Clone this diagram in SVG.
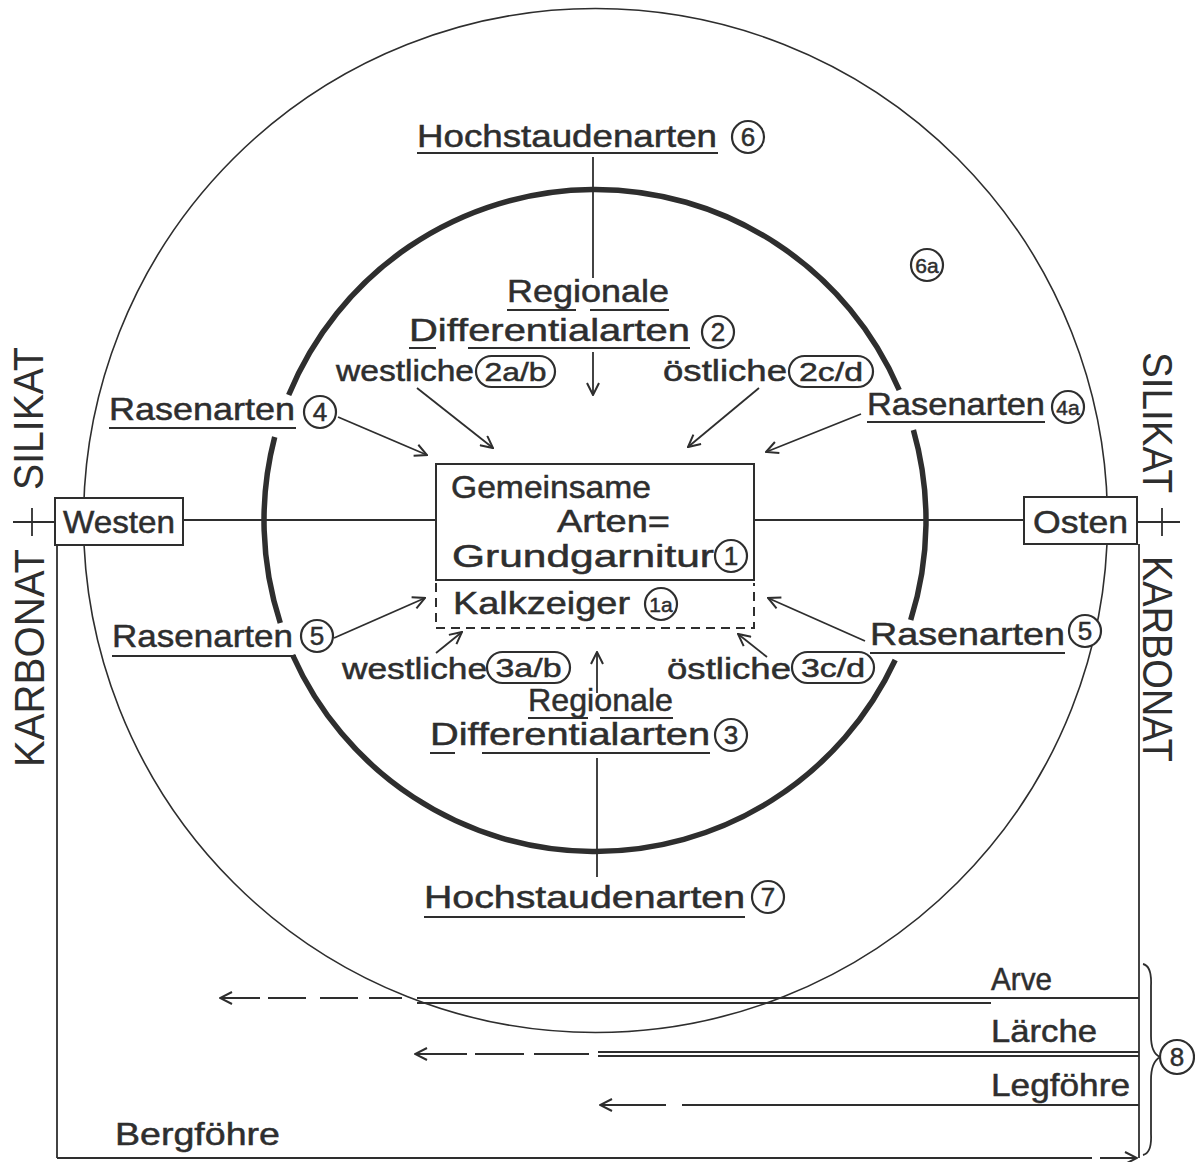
<svg xmlns="http://www.w3.org/2000/svg" width="1195" height="1162" viewBox="0 0 1195 1162">
<style>
.t{font-family:"Liberation Sans",Arial,sans-serif;font-size:32px;fill:#2e2e2e;stroke:#2e2e2e;stroke-width:0.5}
.s{font-family:"Liberation Sans",Arial,sans-serif;font-size:29px;fill:#2e2e2e;stroke:#2e2e2e;stroke-width:0.5}
.v{font-family:"Liberation Sans",Arial,sans-serif;font-size:42px;fill:#2e2e2e}
.n{font-family:"Liberation Sans",Arial,sans-serif;font-size:26px;fill:#2e2e2e;text-anchor:middle;stroke:#2e2e2e;stroke-width:0.5}
.ln{stroke:#2e2e2e;stroke-width:1.8;fill:none}
.thin{stroke:#2e2e2e;stroke-width:1.6;fill:none}
.thick{stroke:#2e2e2e;stroke-width:5.5;fill:none}
.ul{stroke:#2e2e2e;stroke-width:2;fill:none}
.box{stroke:#2e2e2e;stroke-width:2;fill:#fff}
.dash{stroke:#2e2e2e;stroke-width:2;fill:none;stroke-dasharray:9 6}
.c{stroke:#2e2e2e;stroke-width:2.2;fill:#fff}
.arr{stroke:#2e2e2e;stroke-width:1.8;fill:none;marker-end:url(#ah)}
</style>
<defs>
<marker id="ah" viewBox="0 0 14 14" refX="13" refY="7" markerWidth="14" markerHeight="14" markerUnits="userSpaceOnUse" orient="auto">
<path d="M1,1 L13,7 L1,13" fill="none" stroke="#2e2e2e" stroke-width="2"/>
</marker>
</defs>
<rect width="1195" height="1162" fill="#fff"/>

<g id="circles">
<circle cx="595.5" cy="520.5" r="512" class="thin"/>
<path class="thick" d="M288.7,395 A331,331 0 0 1 899.2,390"/>
<path class="thick" d="M274.7,437 A331,331 0 0 0 280.3,623"/>
<path class="thick" d="M292.6,655 A331,331 0 0 0 895.2,660"/>
<path class="thick" d="M913.4,430 A331,331 0 0 1 910.7,620"/>
</g>

<g id="connectors">
<line class="ln" x1="13" y1="522" x2="55" y2="522"/>
<line class="ln" x1="32" y1="508" x2="32" y2="536"/>
<line class="ln" x1="1137" y1="522" x2="1180" y2="522"/>
<line class="ln" x1="1162" y1="508" x2="1162" y2="536"/>
<line class="ln" x1="183" y1="520" x2="436" y2="520"/>
<line class="ln" x1="754" y1="520" x2="1024" y2="520"/>
<line class="ln" x1="57" y1="545" x2="57" y2="1158"/>
<line class="ln" x1="1139" y1="544" x2="1139" y2="1158"/>
<line class="ln" x1="593" y1="157" x2="593" y2="278"/>
<line class="ln" x1="597" y1="758" x2="597" y2="877"/>
<line class="arr" x1="593" y1="352" x2="593" y2="395"/>
<line class="arr" x1="597" y1="693" x2="597" y2="652"/>
<line class="arr" x1="338" y1="417" x2="427" y2="455"/>
<line class="arr" x1="417" y1="388" x2="493" y2="448"/>
<line class="arr" x1="759" y1="388" x2="688" y2="447"/>
<line class="arr" x1="861" y1="414" x2="766" y2="452"/>
<line class="arr" x1="334" y1="638" x2="425" y2="598"/>
<line class="arr" x1="865" y1="641" x2="768" y2="598"/>
<line class="arr" x1="436" y1="653" x2="462" y2="632"/>
<line class="arr" x1="767" y1="657" x2="738" y2="634"/>
<line class="ln" x1="417" y1="998" x2="1139" y2="998"/>
<line class="ln" x1="417" y1="1003" x2="991" y2="1003"/>
<path class="ln" d="M402,998 L369,998 M358,998 L320,998 M306,998 L268,998 M260,998 L220,998" marker-end="url(#ah)"/>
<line class="ln" x1="598" y1="1052" x2="1139" y2="1052"/>
<line class="ln" x1="598" y1="1056" x2="1139" y2="1056"/>
<path class="ln" d="M589,1054 L534,1054 M524,1054 L475,1054 M467,1054 L415,1054" marker-end="url(#ah)"/>
<line class="ln" x1="682" y1="1105" x2="1139" y2="1105"/>
<path class="ln" d="M666,1105 L600,1105" marker-end="url(#ah)"/>
<path class="ln" d="M57,1158 L1092,1158 M1100,1158 L1137,1158" marker-end="url(#ah)"/>
<path class="ln" d="M1143,964 Q1152,966 1151,986 L1151,1036 Q1151,1053 1160,1057 Q1151,1062 1151,1080 L1151,1134 Q1152,1153 1143,1155"/>
</g>

<g id="silikat-left"><text class="v" transform="translate(43,490) rotate(-90)" textLength="143" lengthAdjust="spacingAndGlyphs">SILIKAT</text></g>
<g id="karbonat-left"><text class="v" transform="translate(44,767) rotate(-90)" textLength="218" lengthAdjust="spacingAndGlyphs">KARBONAT</text></g>
<g id="silikat-right"><text class="v" transform="translate(1143,352) rotate(90)" textLength="141" lengthAdjust="spacingAndGlyphs">SILIKAT</text></g>
<g id="karbonat-right"><text class="v" transform="translate(1143,556) rotate(90)" textLength="206" lengthAdjust="spacingAndGlyphs">KARBONAT</text></g>

<g id="westen">
<rect class="box" x="55" y="498" width="128" height="47"/>
<text class="t" x="63" y="533" textLength="112" lengthAdjust="spacingAndGlyphs">Westen</text>
</g>
<g id="osten">
<rect class="box" x="1024" y="497" width="113" height="47"/>
<text class="t" x="1033" y="533" textLength="95" lengthAdjust="spacingAndGlyphs">Osten</text>
</g>

<g id="grundgarnitur">
<rect class="box" x="436" y="464" width="318" height="116"/>
<text class="t" x="451" y="498" textLength="200" lengthAdjust="spacingAndGlyphs">Gemeinsame</text>
<text class="t" x="557" y="532" textLength="113" lengthAdjust="spacingAndGlyphs">Arten=</text>
<text class="t" x="452" y="567" textLength="262" lengthAdjust="spacingAndGlyphs">Grundgarnitur</text>
<circle class="c" cx="731" cy="556" r="16"/><text class="n" x="731" y="565">1</text>
</g>
<g id="kalkzeiger">
<path class="dash" d="M436,583 L436,628 L754,628 L754,583"/>
<text class="t" x="453" y="614" textLength="177" lengthAdjust="spacingAndGlyphs">Kalkzeiger</text>
<circle class="c" cx="661" cy="604" r="16"/><text class="n" x="661" y="612" style="font-size:21px">1a</text>
</g>

<g id="hochstauden6">
<text class="t" x="417" y="147" textLength="300" lengthAdjust="spacingAndGlyphs">Hochstaudenarten</text>
<line class="ul" x1="417" y1="153" x2="718" y2="153"/>
<circle class="c" cx="748" cy="137" r="16"/><text class="n" x="748" y="146">6</text>
</g>
<g id="label6a">
<circle class="c" cx="927" cy="265" r="16"/><text class="n" x="927" y="273" style="font-size:21px">6a</text>
</g>

<g id="regional2">
<text class="t" x="507" y="302" textLength="162" lengthAdjust="spacingAndGlyphs">Regionale</text>
<path class="ul" d="M507,310 L576,310 M590,310 L669,310"/>
<text class="t" x="409" y="341" textLength="281" lengthAdjust="spacingAndGlyphs">Differentialarten</text>
<path class="ul" d="M409,348 L436,348 M468,348 L690,348"/>
<circle class="c" cx="718" cy="332" r="16"/><text class="n" x="718" y="341">2</text>
</g>
<g id="westlich2">
<text class="s" x="336" y="381" textLength="138" lengthAdjust="spacingAndGlyphs">westliche</text>
<rect class="c" x="476" y="356" width="79" height="31" rx="15.5"/>
<text class="n" x="515.5" y="381" textLength="62" lengthAdjust="spacingAndGlyphs">2a/b</text>
</g>
<g id="oestlich2">
<text class="s" x="663" y="381" textLength="124" lengthAdjust="spacingAndGlyphs">östliche</text>
<rect class="c" x="789" y="356" width="84" height="31" rx="15.5"/>
<text class="n" x="831" y="381" textLength="64" lengthAdjust="spacingAndGlyphs">2c/d</text>
</g>

<g id="rasen4">
<text class="t" x="109" y="420" textLength="186" lengthAdjust="spacingAndGlyphs">Rasenarten</text>
<line class="ul" x1="109" y1="428" x2="296" y2="428"/>
<circle class="c" cx="320" cy="412" r="16"/><text class="n" x="320" y="421">4</text>
</g>
<g id="rasen4a">
<text class="t" x="867" y="415" textLength="178" lengthAdjust="spacingAndGlyphs">Rasenarten</text>
<line class="ul" x1="867" y1="422" x2="1045" y2="422"/>
<circle class="c" cx="1068" cy="407" r="16"/><text class="n" x="1068" y="415" style="font-size:21px">4a</text>
</g>
<g id="rasen5-west">
<text class="t" x="112" y="647" textLength="181" lengthAdjust="spacingAndGlyphs">Rasenarten</text>
<line class="ul" x1="112" y1="656" x2="296" y2="656"/>
<circle class="c" cx="317" cy="636" r="16"/><text class="n" x="317" y="645">5</text>
</g>
<g id="rasen5-ost">
<text class="t" x="870" y="645" textLength="195" lengthAdjust="spacingAndGlyphs">Rasenarten</text>
<line class="ul" x1="870" y1="653" x2="1065" y2="653"/>
<circle class="c" cx="1085" cy="631" r="16"/><text class="n" x="1085" y="640">5</text>
</g>

<g id="westlich3">
<text class="s" x="342" y="679" textLength="145" lengthAdjust="spacingAndGlyphs">westliche</text>
<rect class="c" x="487" y="652" width="83" height="31" rx="15.5"/>
<text class="n" x="528.5" y="677" textLength="66" lengthAdjust="spacingAndGlyphs">3a/b</text>
</g>
<g id="oestlich3">
<text class="s" x="667" y="679" textLength="124" lengthAdjust="spacingAndGlyphs">östliche</text>
<rect class="c" x="792" y="652" width="82" height="31" rx="15.5"/>
<text class="n" x="833" y="677" textLength="64" lengthAdjust="spacingAndGlyphs">3c/d</text>
</g>
<g id="regional3">
<text class="t" x="528" y="711" textLength="145" lengthAdjust="spacingAndGlyphs">Regionale</text>
<path class="ul" d="M528,718 L588,718 M600,718 L673,718"/>
<text class="t" x="430" y="745" textLength="280" lengthAdjust="spacingAndGlyphs">Differentialarten</text>
<path class="ul" d="M430,753 L455,753 M482,753 L710,753"/>
<circle class="c" cx="731" cy="735" r="16"/><text class="n" x="731" y="744">3</text>
</g>
<g id="hochstauden7">
<text class="t" x="424" y="908" textLength="321" lengthAdjust="spacingAndGlyphs">Hochstaudenarten</text>
<line class="ul" x1="424" y1="917" x2="745" y2="917"/>
<circle class="c" cx="768" cy="897" r="16"/><text class="n" x="768" y="906">7</text>
</g>

<g id="arve"><text class="t" x="991" y="990" textLength="61" lengthAdjust="spacingAndGlyphs">Arve</text></g>
<g id="laerche"><text class="t" x="991" y="1042" textLength="106" lengthAdjust="spacingAndGlyphs">Lärche</text></g>
<g id="legfoehre"><text class="t" x="991" y="1096" textLength="139" lengthAdjust="spacingAndGlyphs">Legföhre</text></g>
<g id="bergfoehre"><text class="t" x="115" y="1145" textLength="165" lengthAdjust="spacingAndGlyphs">Bergföhre</text></g>
<g id="label8">
<circle class="c" cx="1177" cy="1057" r="17"/><text class="n" x="1177" y="1066">8</text>
</g>
</svg>
